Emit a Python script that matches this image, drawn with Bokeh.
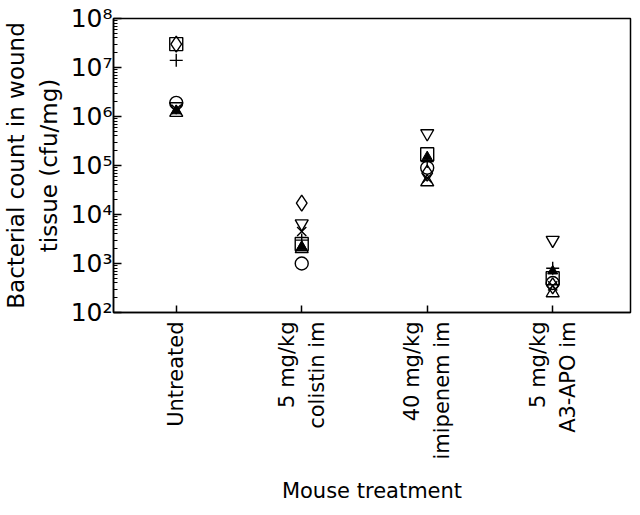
import math
from bokeh.plotting import figure
from bokeh.models import FixedTicker, Range1d, LogTicker
from bokeh.embed import file_html
from bokeh.resources import INLINE

categories = ["Untreated", "5 mg/kg\ncolistin im", "40 mg/kg\nimipenem im", "5 mg/kg\nA3-APO im"]
x_pos = [0, 1, 2, 3]

# per-mouse values (cfu/mg), one list per symbol, in category order
circle_vals = [1.9e6, 1.0e3, 9.0e4, 4.0e2]
square_vals = [3.0e7, 2.5e3, 1.7e5, 5.0e2]
triangle_vals = [1.2e6, 2.0e3, 4.6e4, 2.5e2]
inv_triangle_vals = [1.6e6, 6.5e3, 4.5e5, 3.0e3]
diamond_vals = [3.0e7, 1.7e4, 7.0e4, 3.5e2]
x_vals = [1.4e6, 4.5e3, 5.5e4, 3.5e2]
cross_vals = [1.4e7, 3.0e3, 1.2e5, 8.0e2]
filled_tri_vals = [1.3e6, 2.2e3, 1.5e5, 7.0e2]

y_ticks = [1e2, 1e3, 1e4, 1e5, 1e6, 1e7, 1e8]
y_tick_labels = ["10²", "10³", "10⁴", "10⁵", "10⁶", "10⁷", "10⁸"]

FONT = "DejaVu Sans"

p = figure(width=632, height=505, y_axis_type="log",
           x_range=Range1d(-0.5, 3.62), y_range=Range1d(1e2, 1e8),
           output_backend="svg", toolbar_location=None,
           min_border_left=108, min_border_right=2, min_border_top=18, min_border_bottom=4)

p.grid.visible = False
p.outline_line_color = "black"
p.outline_line_width = 1.5
p.background_fill_color = "white"
p.border_fill_color = "white"

ms = 13
lw = 1.4
p.scatter(x_pos, circle_vals, marker="circle", size=ms, fill_color=None, line_color="black", line_width=lw)
p.scatter(x_pos, square_vals, marker="square", size=ms, fill_color=None, line_color="black", line_width=lw)
p.scatter(x_pos, triangle_vals, marker="triangle", size=ms, fill_color=None, line_color="black", line_width=lw)
p.scatter(x_pos, inv_triangle_vals, marker="inverted_triangle", size=ms, fill_color=None, line_color="black", line_width=lw)
p.scatter(x_pos, diamond_vals, marker="diamond", size=ms + 3, fill_color=None, line_color="black", line_width=lw)
p.scatter(x_pos, x_vals, marker="x", size=ms, fill_color=None, line_color="black", line_width=lw)
p.scatter(x_pos, cross_vals, marker="cross", size=ms, fill_color=None, line_color="black", line_width=lw)
p.scatter(x_pos, filled_tri_vals, marker="triangle", size=ms - 3, fill_color="black", line_color="black", line_width=1)

# x axis
xa = p.xaxis[0]
xa.ticker = FixedTicker(ticks=x_pos)
xa.major_label_overrides = {i: c for i, c in zip(x_pos, categories)}
xa.major_label_orientation = math.pi / 2
xa.minor_tick_line_color = None
xa.major_tick_in = 7
xa.major_tick_out = 0
xa.axis_line_width = 1.5
xa.major_tick_line_width = 1.5
xa.major_label_text_font = FONT
xa.major_label_text_font_size = "21px"
xa.major_label_text_color = "black"
xa.major_label_text_line_height = 1.25
xa.major_label_text_align = "center"
xa.major_label_standoff = 9
xa.axis_label = "Mouse treatment"
xa.axis_label_text_font = FONT
xa.axis_label_text_font_size = "21px"
xa.axis_label_text_font_style = "normal"
xa.axis_label_text_color = "black"
xa.axis_label_standoff = 16

# y axis
ya = p.yaxis[0]
ya.ticker = LogTicker(desired_num_ticks=7, num_minor_ticks=10)
ya.major_label_overrides = {t: l for t, l in zip(y_ticks, y_tick_labels)}
ya.major_tick_in = 8
ya.major_tick_out = 0
ya.minor_tick_in = 4
ya.minor_tick_out = 0
ya.axis_line_width = 1.5
ya.major_tick_line_width = 1.5
ya.major_label_text_font = FONT
ya.major_label_text_font_size = "25px"
ya.major_label_text_color = "black"
ya.major_label_standoff = 1
ya.axis_label = "Bacterial count in wound\ntissue (cfu/mg)"
ya.axis_label_text_font = FONT
ya.axis_label_text_font_size = "23px"
ya.axis_label_text_font_style = "normal"
ya.axis_label_text_color = "black"
ya.axis_label_text_line_height = 1.25
ya.axis_label_standoff = 6

open("out.html", "w").write(file_html(p, INLINE))
